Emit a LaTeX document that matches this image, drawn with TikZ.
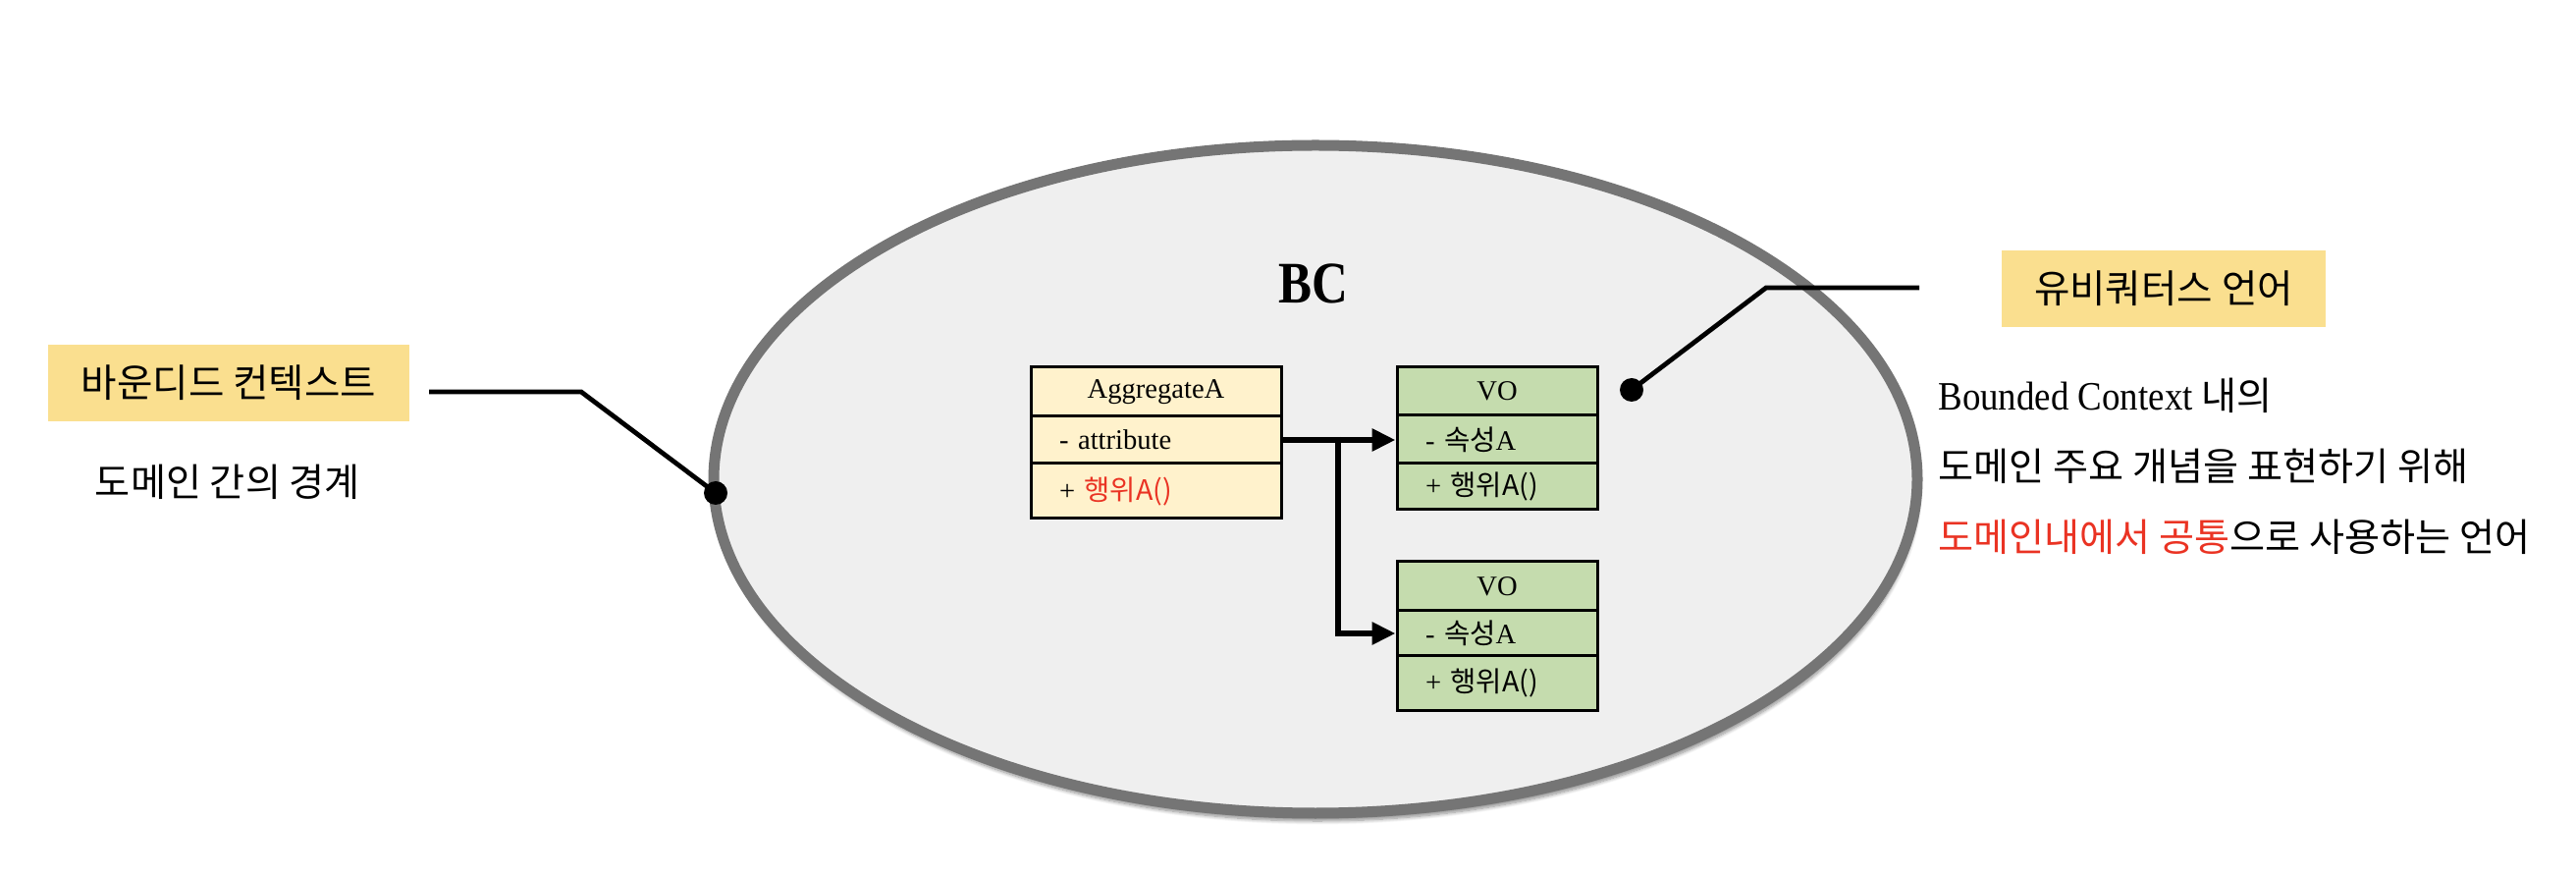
\documentclass[tikz,border=0pt]{standalone}
\usepackage{fontspec}
\setmainfont{Liberation Serif}
\newfontfamily\kr{Noto Sans CJK KR}
\usetikzlibrary{arrows.meta,shadows.blur,shapes.geometric}
\definecolor{ellfill}{RGB}{239,239,239}
\definecolor{elldraw}{RGB}{117,117,117}
\definecolor{tagyellow}{RGB}{250,223,143}
\definecolor{aggfill}{RGB}{255,242,204}
\definecolor{vofill}{RGB}{197,220,174}
\definecolor{hlred}{RGB}{234,51,35}
\begin{document}
\begin{tikzpicture}[x=0.5pt,y=-0.5pt,
  tag/.style={fill=tagyellow, inner sep=0pt, font=\kr\fontsize{19.8pt}{22pt}\selectfont},
  plain/.style={inner sep=0pt, font=\kr\fontsize{19.6pt}{22pt}\selectfont},
  row/.style={draw=black, line width=1.5pt, inner ysep=0pt, inner xsep=14.5pt, align=left,
    font=\fontsize{14.3pt}{16pt}\selectfont},
  aggrow/.style={row, fill=aggfill, text width=98.5pt},
  vorow/.style={row, fill=vofill, text width=73pt},
  titlerow/.style={align=center},
  callout/.style={line width=2.4pt, black},
  dotmark/.style={circle, fill=black, inner sep=0pt, minimum size=12pt},
  conn/.style={line width=3pt, -{Triangle[length=12pt,width=11pt]}}
]
\useasboundingbox (0,0) rectangle (2624,892);

% bounded context ellipse
\node[ellipse, draw=elldraw, line width=5.5pt, fill=ellfill, minimum width=613pt,
      minimum height=340pt, inner sep=0pt,
      blur shadow={shadow xshift=1pt, shadow yshift=-4pt, shadow blur steps=8, shadow opacity=45}]
      (bc) at (1340,488) {};
\node[font=\bfseries\fontsize{30pt}{32pt}\selectfont] (bctitle) at (1338,289) {\scalebox{0.85}[1]{BC}};

% AggregateA
\node[aggrow, titlerow, minimum height=25pt] (agg-t) at (1177.5,399) {AggregateA};
\node[aggrow, minimum height=24pt] (agg-a) at (1177.5,448) {- attribute};
\node[aggrow, minimum height=28pt] (agg-m) at (1177.5,500) {+ {\kr\color{hlred}행위A()}};

% VO 1
\node[vorow, titlerow, minimum height=24.5pt] (vo1-t) at (1525,398.5) {VO};
\node[vorow, minimum height=24.5pt] (vo1-a) at (1525,447.5) {- {\kr 속성}A};
\node[vorow, minimum height=23.5pt] (vo1-m) at (1525,495.5) {+ {\kr 행위A()}};

% VO 2
\node[vorow, titlerow, minimum height=25pt] (vo2-t) at (1525,597) {VO};
\node[vorow, minimum height=23pt] (vo2-a) at (1525,645) {- {\kr 속성}A};
\node[vorow, minimum height=27.5pt] (vo2-m) at (1525,695.5) {+ {\kr 행위A()}};

% associations
\coordinate (j) at (1363,445);
\draw[conn] (agg-a.east) -- (agg-a.east -| vo1-a.west);
\draw[conn] (j) |- (vo2-a.west);

% left callout
\node[tag, minimum width=184pt, minimum height=39pt] (lbl1) at (233,390) {바운디드 컨텍스트};
\node[plain] (sub1) at (232,491) {도메인 간의 경계};
\node[dotmark] (dotl) at (729,502) {};
\coordinate (l1a) at (437,399);
\coordinate (l1b) at (592,399);
\draw[callout] (l1a) -- (l1b) -- (dotl.center);

% right callout
\node[tag, minimum width=165pt, minimum height=39pt] (lbl2) at (2204,294) {유비쿼터스 언어};
\node[dotmark] (dotr) at (1662,397) {};
\coordinate (r1a) at (1955,293);
\coordinate (r1b) at (1799,293);
\draw[callout] (r1a) -- (r1b) -- (dotr.center);

\node[plain, anchor=west] (desc1) at (1974,403)
  {{\rmfamily\fontsize{20.5pt}{22pt}\selectfont\scalebox{0.9}[1]{Bounded Context}} 내의};
\node[plain, anchor=west] (desc2) at (1974,475) {도메인 주요 개념을 표현하기 위해};
\node[plain, anchor=west] (desc3) at (1974,547)
  {{\color{hlred}도메인내에서 공통}으로 사용하는 언어};
\end{tikzpicture}
\end{document}
